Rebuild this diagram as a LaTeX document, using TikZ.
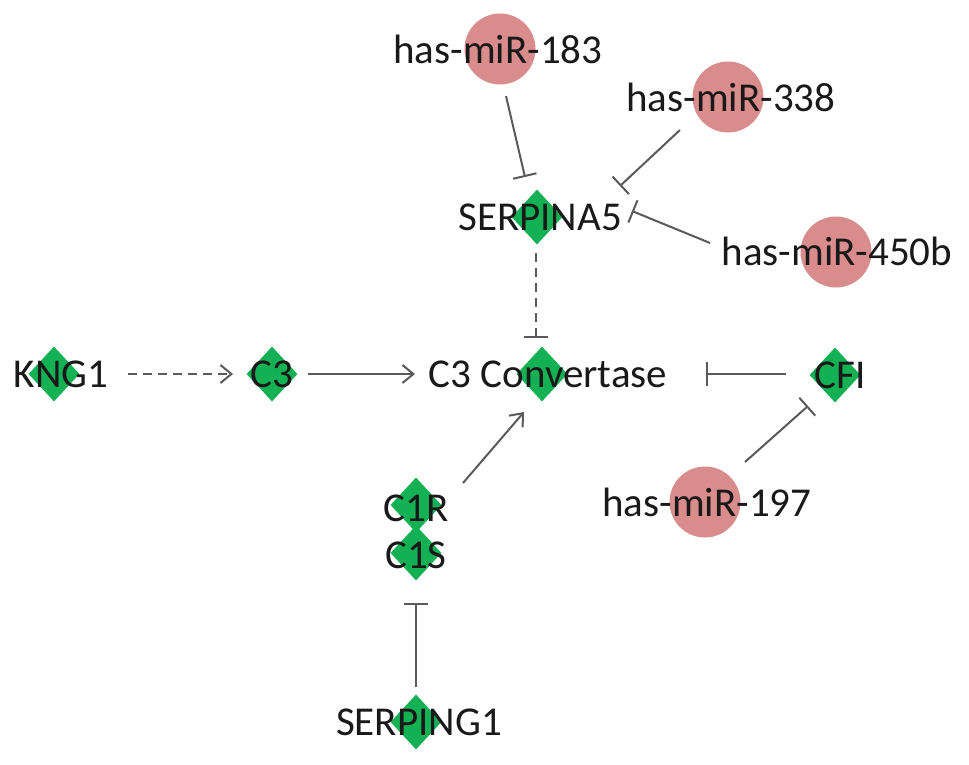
\documentclass[tikz,border=0pt]{standalone}
\usepackage{fontspec}
\setmainfont{Carlito}
\usetikzlibrary{shapes.geometric,arrows.meta,calc}
\definecolor{dgreen}{RGB}{20,176,84}
\definecolor{mpink}{RGB}{217,140,140}
\definecolor{edgec}{RGB}{90,90,90}
\definecolor{txtc}{RGB}{25,25,25}
\newcommand\labfont{\fontsize{41}{41}\selectfont}
\tikzset{
  dia/.style={diamond, fill=dgreen, minimum width=51pt, minimum height=55pt, inner sep=0pt},
  mir/.style={circle, fill=mpink, minimum size=71pt, inner sep=0pt},
  lab/.style={font=\labfont, text=txtc, inner sep=0pt},
  conn/.style={draw=edgec, line width=2pt},
  act/.style={conn, -{Straight Barb[length=11pt,width=18pt,line width=2pt]}},
  inh/.style={conn, -{Bar[width=24pt,line width=2pt]}},
  dash1/.style={dash pattern=on 9pt off 6pt},
}
\begin{document}
\begin{tikzpicture}[x=1pt,y=-1pt]
\path[use as bounding box] (0,0) rectangle (969,765);
% shapes
\node[mir] (m183) at (500,49) {};
\node[mir] (m338) at (728,97) {};
\node[mir] (m450) at (836,252) {};
\node[mir] (m197) at (705,502) {};
\node[dia] (s5) at (537,217) {};
\node[dia] (kng1) at (54,374) {};
\node[dia] (c3) at (272,374) {};
\node[dia] (conv) at (542,374) {};
\node[dia] (cfi) at (835,375) {};
\node[dia] (c1r) at (416,505) {};
\node[dia] (c1s) at (416,553) {};
\node[dia] (sg1) at (416,722) {};
% labels
\node[lab] (m183t) at (498,49) {has-miR-183};
\node[lab] (m338t) at (731,97) {has-miR-338};
\node[lab] (m450t) at (837,251) {has-miR-450b};
\node[lab] (m197t) at (707,502) {has-miR-197};
\node[lab] (s5t) at (540,217) {SERPINA5};
\node[lab] (kng1t) at (61,374) {KNG1};
\node[lab] (c3t) at (272,374) {C3};
\node[lab] (convt) at (548,374) {C3 Convertase};
\node[lab] (cfit) at (840,375) {CFI};
\node[lab] (c1rt) at (416,508) {C1R};
\node[lab] (c1st) at (416,555) {C1S};
\node[lab] (sg1t) at (419,722) {SERPING1};
% connectors
\draw[inh] ($(m183)+(6,47)$) -- ($(s5)+(-12,-40)$);
\draw[inh] ($(m338)+(-48,33)$) -- ($(s5)+(83,-31)$);
\draw[inh] ($(m450)+(-126,-9)$) -- ($(s5)+(95,-6)$);
\draw[inh,dash1] ($(s5)+(-1,36)$) -- ($(conv)+(-6,-36)$);
\draw[act,dash1] ($(kng1)+(74,0)$) -- ($(c3)+(-39,0)$);
\draw[act] ($(c3)+(36,0)$) -- ($(conv)+(-127,0)$);
\draw[inh] ($(cfi)+(-49,-1)$) -- ($(conv)+(164,0)$);
\draw[inh] ($(m197)+(40,-40)$) -- ($(cfi)+(-27,31)$);
\draw[act] ($(c1r)+(47,-22)$) -- ($(conv)+(-18,38)$);
\draw[inh] ($(sg1)+(0,-35)$) -- ($(c1s)+(0,50)$);
\end{tikzpicture}
\end{document}
